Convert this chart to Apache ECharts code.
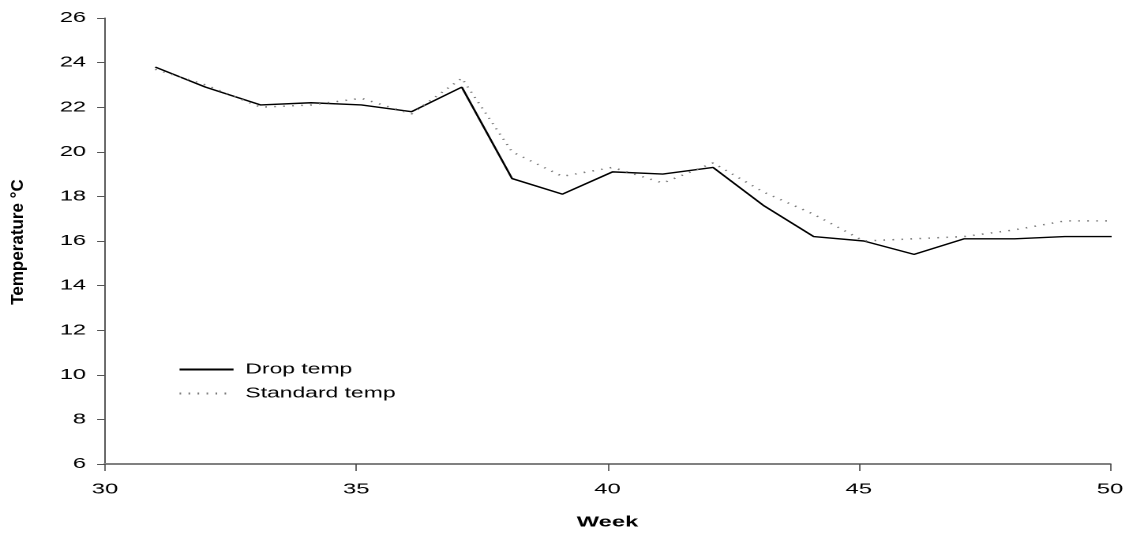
<!DOCTYPE html>
<html>
<head>
<meta charset="utf-8">
<script src="https://cdn.jsdelivr.net/npm/echarts@6/dist/echarts.min.js"></script>
<style>
  html, body { margin: 0; padding: 0; background: #ffffff; overflow: hidden; }
  /* The chart is laid out narrow and widened, so its lettering comes out broad */
  #chart {
    width: 715px;
    height: 535px;
    transform: scaleX(1.579);
    transform-origin: 0 0;
  }
</style>
</head>
<body>
<div id="chart"></div>
<script>
// Week of each reading (readings fall slightly after the start of the week)
const weeks = [31.0, 32.0, 33.1, 34.1, 35.1, 36.1, 37.1, 38.1, 39.1, 40.1,
               41.1, 42.1, 43.1, 44.1, 45.1, 46.1, 47.1, 48.1, 49.1, 50.1];
// Mean temperature (°C) per week
const dropTemp     = [23.8, 22.9, 22.1, 22.2, 22.1, 21.8, 22.9, 18.8, 18.1, 19.1,
                      19.0, 19.3, 17.6, 16.2, 16.0, 15.4, 16.1, 16.1, 16.2, 16.2];
const standardTemp = [23.7, 23.0, 22.0, 22.1, 22.4, 21.7, 23.3, 20.0, 18.9, 19.3,
                      18.6, 19.5, 18.2, 17.2, 16.0, 16.1, 16.2, 16.5, 16.9, 16.9];
const seriesNames = ['Drop temp', 'Standard temp'];
const yTitle = 'Temperature °C';
const xTitle = 'Week';

const STRETCH = 1.579;   // horizontal widening applied by the stylesheet
const pair = (xs, ys) => xs.map((x, i) => [x, ys[i]]);
const font = 'Liberation Sans, Arial, sans-serif';

const chart = echarts.init(document.getElementById('chart'), null,
  { renderer: 'canvas', devicePixelRatio: 2 });

chart.setOption({
  animation: false,
  backgroundColor: '#ffffff',
  grid: { left: 66.5, right: 12, top: 18, bottom: 71, containLabel: false },
  legend: {
    orient: 'vertical',
    left: 112.7,
    top: 362,
    padding: 0,
    itemWidth: 34.2,
    itemHeight: 14,
    itemGap: 9,
    data: seriesNames,
    itemStyle: { opacity: 0 },
    textStyle: { fontFamily: font, fontSize: 14.5, color: '#000', padding: [0, 0, 0, 2.5] }
  },
  // Vertical axis title, narrowed again so the stretch leaves it upright-sized
  graphic: [{
    type: 'text',
    x: 11.4,
    y: 242,
    rotation: Math.PI / 2,
    scaleY: 1 / STRETCH,
    silent: true,
    style: {
      text: yTitle,
      fontFamily: font,
      fontSize: 17,
      fontWeight: 'bold',
      fill: '#000',
      align: 'center',
      verticalAlign: 'middle'
    }
  }],
  xAxis: {
    type: 'value',
    min: 30, max: 50, interval: 5,
    name: xTitle,
    nameLocation: 'middle',
    nameGap: 51,
    nameTextStyle: { fontFamily: font, fontSize: 15, fontWeight: 'bold', color: '#000' },
    axisLine: { lineStyle: { color: '#808080', width: 2 } },
    axisTick: { inside: false, length: 7, lineStyle: { color: '#444', width: 0.8 } },
    axisLabel: { fontFamily: font, fontSize: 15, color: '#000', margin: 18 },
    splitLine: { show: false }
  },
  yAxis: {
    type: 'value',
    min: 6, max: 26, interval: 2,
    axisLine: { lineStyle: { color: '#555', width: 1 } },
    axisTick: { inside: false, length: 5, lineStyle: { color: '#555', width: 1 } },
    axisLabel: { fontFamily: font, fontSize: 15, color: '#000', margin: 12 },
    splitLine: { show: false }
  },
  series: [
    {
      name: seriesNames[0],
      type: 'line',
      data: pair(weeks, dropTemp),
      symbol: 'none',
      clip: true,
      lineStyle: { color: '#000', width: 1.4, type: 'solid' },
      itemStyle: { color: '#000' }
    },
    {
      name: seriesNames[1],
      type: 'line',
      data: pair(weeks, standardTemp),
      symbol: 'none',
      clip: true,
      lineStyle: { color: '#777', width: 1.5, type: [1, 4.7] },
      itemStyle: { color: '#777' }
    }
  ]
});
</script>
</body>
</html>
